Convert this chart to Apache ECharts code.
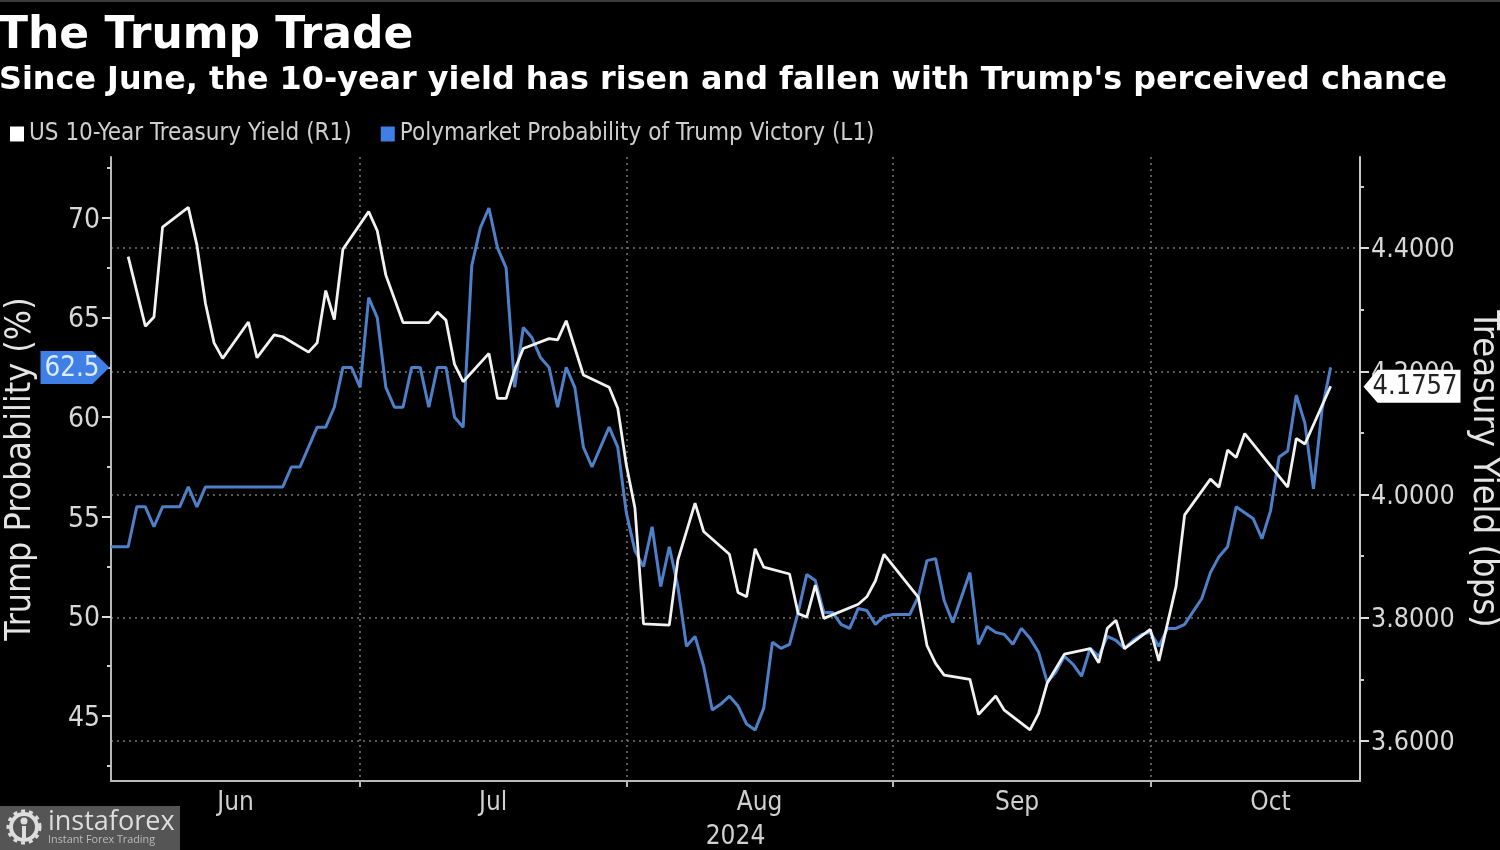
<!DOCTYPE html>
<html>
<head>
<meta charset="utf-8">
<style>html,body{margin:0;background:#000}#main{width:1500px;height:850px}</style>
<script src="https://cdn.jsdelivr.net/npm/echarts@6/dist/echarts.min.js"></script>
</head>
<body>
<div id="main"></div>
<script>
const monthNames = ['Jan', 'Feb', 'Mar', 'Apr', 'May', 'Jun', 'Jul', 'Aug', 'Sep', 'Oct', 'Nov', 'Dec'];
const monthLabelDays = ['2024-06-15 12:00:00', '2024-07-15 12:00:00', '2024-08-15 12:00:00', '2024-09-14 12:00:00', '2024-10-14'];
const monthEdgeDays = ['2024-06-30', '2024-07-31', '2024-08-31', '2024-09-30'];
const probTicks = [45, 50, 55, 60, 65, 70];
const probMinorTicks = [42.5, 47.5, 52.5, 57.5, 62.5, 67.5, 72.5];
const yieldTicks = [3.6, 3.8, 4.0, 4.2, 4.4];
const yieldMinorTicks = [3.7, 3.9, 4.1, 4.3, 4.5];
const lastProb = 62.5;
const lastYield = 4.1757;

// treasury yield, business days only
const yieldDates = ['06-03','06-05','06-06','06-07','06-10','06-11','06-12','06-13','06-14','06-17','06-18','06-20','06-21','06-24','06-25','06-26','06-27','06-28',
  '07-01','07-02','07-03','07-05','07-08','07-09','07-10','07-11','07-12','07-15','07-16','07-17','07-18','07-19','07-22','07-23','07-24','07-26','07-29','07-30','07-31',
  '08-01','08-02','08-05','08-06','08-08','08-09','08-12','08-13','08-14','08-15','08-16','08-19','08-20','08-21','08-22','08-23','08-27','08-28','08-29','08-30',
  '09-03','09-04','09-05','09-06','09-09','09-10','09-12','09-13','09-16','09-17','09-18','09-20','09-23','09-24','09-25','09-26','09-27','09-30',
  '10-01','10-03','10-04','10-07','10-08','10-09','10-10','10-11','10-16','10-17','10-18','10-21'];
const yieldValues = [4.386,4.273,4.288,4.434,4.466,4.405,4.310,4.246,4.221,4.280,4.222,4.259,4.256,4.231,4.246,4.331,4.284,4.398,
  4.459,4.428,4.356,4.279,4.279,4.296,4.283,4.211,4.183,4.229,4.156,4.156,4.202,4.237,4.253,4.251,4.282,4.194,4.174,4.140,4.048,
  3.978,3.790,3.788,3.894,3.986,3.940,3.903,3.841,3.834,3.912,3.882,3.871,3.807,3.801,3.853,3.799,3.822,3.834,3.860,3.903,
  3.833,3.755,3.726,3.707,3.700,3.643,3.673,3.650,3.618,3.645,3.694,3.741,3.750,3.727,3.783,3.796,3.750,3.781,
  3.730,3.851,3.967,4.025,4.012,4.072,4.060,4.099,4.012,4.091,4.082,4.1757];

// polymarket probability, trades through weekends
const probDates = ['06-01','06-03','06-04','06-05','06-06','06-07','06-09','06-10','06-11','06-12','06-21','06-22','06-23','06-24','06-25','06-26','06-27','06-28','06-29','06-30',
  '07-01','07-02','07-03','07-04','07-05','07-06','07-07','07-08','07-09','07-10','07-11','07-12','07-13','07-14','07-15','07-16','07-17','07-18','07-19','07-20','07-21','07-22','07-23','07-24','07-25','07-26','07-27','07-29','07-30','07-31',
  '08-01','08-02','08-03','08-04','08-05','08-06','08-07','08-08','08-09','08-10','08-11','08-12','08-13','08-14','08-15','08-16','08-17','08-18','08-19','08-20','08-21','08-22','08-23','08-24','08-25','08-26','08-27','08-28','08-29','08-30','08-31',
  '09-02','09-03','09-04','09-05','09-06','09-07','09-09','09-10','09-11','09-12','09-13','09-14','09-15','09-16','09-17','09-18','09-19','09-20','09-21','09-22','09-23','09-24','09-25','09-26','09-27','09-28','09-29','09-30',
  '10-01','10-02','10-03','10-04','10-06','10-07','10-08','10-09','10-10','10-12','10-13','10-14','10-15','10-16','10-17','10-18','10-19','10-20','10-21'];
const probValues = [53.5,53.5,55.5,55.5,54.5,55.5,55.5,56.5,55.5,56.5,56.5,57.5,57.5,58.5,59.5,59.5,60.5,62.5,62.5,61.5,
  66,65,61.5,60.5,60.5,62.5,62.5,60.5,62.5,62.5,60,59.5,67.6,69.5,70.5,68.5,67.5,61.5,64.5,64,63,62.5,60.5,62.5,61.5,58.5,57.5,59.5,58.5,55.2,
  53.3,52.5,54.5,51.5,53.5,51.5,48.5,49,47.5,45.3,45.6,46,45.5,44.6,44.3,45.4,48.7,48.4,48.6,50.2,52.1,51.8,50.2,50.2,49.6,49.4,50.4,50.3,49.6,50,50.1,
  50.1,51,52.8,52.9,50.8,49.7,52.2,48.6,49.5,49.2,49.1,48.6,49.4,48.9,48.2,46.7,47.2,48,47.6,47,48.4,48,49,48.8,48.4,48.8,49.1,49.2,
  48.5,49.4,49.4,49.6,50.9,52.2,53,53.5,55.5,54.9,53.9,55.3,58,58.3,61.1,59.7,56.4,60.4,62.5];

const axisFont = 'DejaVu Sans Condensed';
const toTime = d => echarts.time.parse(d).getTime();
const toPairs = (dates, values) => dates.map((d, i) => [toTime('2024-' + d), values[i]]);
// value axis on timestamps, the time axis breaks on customValues
const xMin = toTime('2024-06-01');
const xMax = toTime('2024-10-24 10:00:00');

const myChart = echarts.init(document.querySelector('#main'));

let option = {
  animation: false,
  backgroundColor: '#000',
  textStyle: { fontFamily: axisFont },
  title: [
    { text: 'The Trump Trade', left: -2, top: 15, padding: 0, textStyle: { color: '#fff', fontSize: 44, fontWeight: 'bold', fontFamily: 'DejaVu Sans' } },
    { text: "Since June, the 10-year yield has risen and fallen with Trump's perceived chance", left: -1, top: 65, padding: 0, textStyle: { color: '#fff', fontSize: 31.85, fontWeight: 'bold', fontFamily: 'DejaVu Sans' } }
  ],
  legend: {
    left: 10, top: 122, padding: 0, itemGap: 29, itemWidth: 14, itemHeight: 15, icon: 'rect',
    data: ['US 10-Year Treasury Yield (R1)', 'Polymarket Probability of Trump Victory (L1)'],
    textStyle: { color: '#cfcfcf', fontSize: 24, fontFamily: axisFont }
  },
  grid: { left: 111, right: 140, top: 157, bottom: 69, outerBoundsMode: 'none' },
  xAxis: {
    type: 'value', min: xMin, max: xMax,
    name: '2024', nameLocation: 'middle', nameGap: 43,
    nameTextStyle: { color: '#d0d0d0', fontSize: 26, fontFamily: axisFont },
    axisLine: { lineStyle: { color: '#b8b8b8', width: 2 } },
    axisTick: { show: true, length: 6, customValues: monthEdgeDays.map(toTime), lineStyle: { color: '#b8b8b8', width: 2 } },
    axisLabel: {
      customValues: monthLabelDays.map(toTime), color: '#d0d0d0', fontSize: 26, margin: 9,
      formatter: v => monthNames[new Date(v).getMonth()]
    },
    splitLine: { show: true, lineStyle: { color: '#777', type: [2, 4], width: 1.5 } }
  },
  yAxis: [
    {
      type: 'value', position: 'left', min: 41.74, max: 73.06,
      name: 'Trump Probability (%)', nameLocation: 'middle', nameGap: 72,
      nameTextStyle: { color: '#e4e4e4', fontSize: 35.5, fontFamily: axisFont },
      axisLine: { show: true, lineStyle: { color: '#b8b8b8', width: 2 } },
      axisTick: { show: true, length: 9, customValues: probTicks, lineStyle: { color: '#ddd', width: 2 } },
      axisLabel: {
        customValues: probTicks, margin: 11, formatter: v => '{v|' + v + '}',
        rich: { v: { color: '#d8d8d8', fontSize: 28, fontFamily: axisFont, padding: [5, 0, 0, 0] } }
      },
      splitLine: { show: false }
    },
    {
      type: 'value', position: 'right', min: 3.5351, max: 4.5477,
      name: 'Treasury Yield (bps)', nameLocation: 'middle', nameGap: 96, nameRotate: -90,
      nameTextStyle: { color: '#e4e4e4', fontSize: 36, fontFamily: axisFont },
      axisLine: { show: true, lineStyle: { color: '#c8c8c8', width: 2 } },
      axisTick: { show: true, length: 9, customValues: yieldTicks, lineStyle: { color: '#ddd', width: 2 } },
      axisLabel: {
        customValues: yieldTicks, margin: 11, formatter: v => '{v|' + v.toFixed(4) + '}',
        rich: { v: { color: '#d8d8d8', fontSize: 26.6, fontFamily: axisFont, padding: [5, 0, 0, 0] } }
      },
      splitLine: { show: true, lineStyle: { color: '#777', type: [2, 4], width: 1.5 } }
    },
    // minor ticks only, same scales as the two axes above
    {
      type: 'value', position: 'left', min: 41.74, max: 73.06,
      axisLine: { show: false }, axisLabel: { show: false }, splitLine: { show: false },
      axisTick: { show: true, length: 4, customValues: probMinorTicks, lineStyle: { color: '#ccc', width: 2 } }
    },
    {
      type: 'value', position: 'right', min: 3.5351, max: 4.5477,
      axisLine: { show: false }, axisLabel: { show: false }, splitLine: { show: false },
      axisTick: { show: true, length: 4, customValues: yieldMinorTicks, lineStyle: { color: '#ccc', width: 2 } }
    }
  ],
  series: [
    {
      name: 'Polymarket Probability of Trump Victory (L1)', type: 'line', yAxisIndex: 0, z: 2,
      showSymbol: false, symbol: 'none', data: toPairs(probDates, probValues),
      itemStyle: { color: '#3f7fe6' }, lineStyle: { color: '#4d80c8', width: 3 },
      markPoint: {
        z: 20, silent: true,
        data: [{
          coord: [xMin, lastProb], symbol: 'path://M0,0H52L69,16.5L52,33H0Z', symbolSize: [69, 33], symbolOffset: [-36, 0],
          itemStyle: { color: '#3f7fe6' },
          label: { show: true, position: 'inside', offset: [-3, 1], formatter: String(lastProb), color: '#dcecff', fontSize: 27.5, fontFamily: axisFont }
        }]
      }
    },
    {
      name: 'US 10-Year Treasury Yield (R1)', type: 'line', yAxisIndex: 1, z: 3,
      showSymbol: false, symbol: 'none', data: toPairs(yieldDates, yieldValues),
      itemStyle: { color: '#fff' }, lineStyle: { color: '#f2f2f2', width: 2.8 },
      markPoint: {
        z: 20, silent: true,
        data: [{
          coord: [xMax, lastYield], symbol: 'path://M14,0H97V33H14L0,17Z', symbolSize: [97, 33], symbolOffset: [52, 0],
          itemStyle: { color: '#fff' },
          label: { show: true, position: 'inside', offset: [3, 1], formatter: lastYield.toFixed(4), color: '#222', fontSize: 27, fontFamily: axisFont }
        }]
      }
    }
  ],
  graphic: [
    { type: 'rect', shape: { x: 0, y: 0, width: 1500, height: 2 }, style: { fill: '#3a3a3a' } },
    { type: 'rect', shape: { x: 0, y: 806, width: 180, height: 44 }, style: { fill: '#555' } },
    { type: 'circle', shape: { cx: 24, cy: 827, r: 13 }, style: { fill: 'none', stroke: '#ddd', lineWidth: 4 } },
    { type: 'circle', shape: { cx: 24, cy: 827, r: 16 }, style: { fill: 'none', stroke: '#ddd', lineWidth: 3, lineDash: [4, 4] } },
    { type: 'circle', shape: { cx: 24, cy: 821, r: 3.5 }, style: { fill: '#ddd' } },
    { type: 'rect', shape: { x: 22, y: 826, width: 4, height: 15 }, style: { fill: '#ddd' } },
    { type: 'text', x: 48, y: 809, style: { text: 'instaforex', fill: '#ddd', font: '27px "Open Sans"' } },
    { type: 'text', x: 48, y: 834, style: { text: 'Instant Forex Trading', fill: '#bbb', font: '10.8px "Open Sans"' } }
  ]
};

option && myChart.setOption(option);
</script>
</body>
</html>
